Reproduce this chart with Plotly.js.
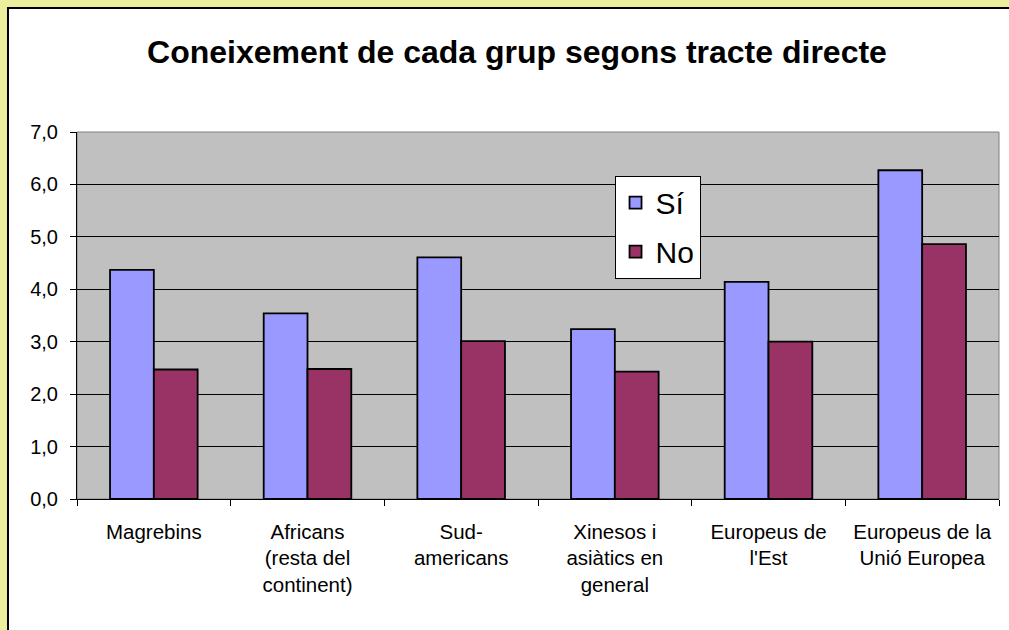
<!DOCTYPE html>
<html>
<head>
<meta charset="utf-8">
<script src="https://cdn.plot.ly/plotly-3.0.1.min.js"></script>
<style>
  html, body { margin: 0; padding: 0; width: 1009px; height: 630px; overflow: hidden; background: #EEEE9F; }
  #frame { position: absolute; left: 7px; top: 7px; width: 1002px; height: 623px; border-left: 2px solid #000; border-top: 2px solid #000; background: #fff; }
  #chart { position: absolute; left: 0; top: 0; width: 1000px; height: 621px; }
</style>
</head>
<body>
<div id="frame"><div id="chart"></div></div>
<script>
const categories = [
  "Magrebins",
  "Africans<br>(resta del<br>continent)",
  "Sud-<br>americans",
  "Xinesos i<br>asiàtics en<br>general",
  "Europeus de<br>l'Est",
  "Europeus de la<br>Unió Europea"
];
const seriesNames = ["Sí", "No"];
const valuesSi = [4.37, 3.54, 4.61, 3.24, 4.14, 6.27];
const valuesNo = [2.47, 2.48, 3.01, 2.43, 3.00, 4.86];
const yTicks = [0, 1, 2, 3, 4, 5, 6, 7];

const FONT = "Liberation Sans, Arial, sans-serif";

const traces = [
  {
    type: "bar", name: seriesNames[0], x: categories, y: valuesSi,
    legendgroup: "si",
    marker: { color: "#9999FF", line: { color: "#000", width: 1.8 } },
    hoverinfo: "none"
  },
  {
    type: "bar", name: seriesNames[1], x: categories, y: valuesNo,
    legendgroup: "no",
    marker: { color: "#993366", line: { color: "#000", width: 1.8 } },
    hoverinfo: "none"
  }
];

const layout = {
  width: 1000, height: 621,
  margin: { l: 68, r: 10, t: 123, b: 131 },
  paper_bgcolor: "#FFFFFF",
  plot_bgcolor: "#C0C0C0",
  separators: ", ",
  font: { family: FONT, color: "#000", size: 20 },
  title: {
    text: "<b>Coneixement de cada grup segons tracte directe</b>",
    font: { family: FONT, size: 32, color: "#000" },
    x: 0.508, xref: "container", xanchor: "center",
    y: 0.931, yref: "container", yanchor: "middle"
  },
  barmode: "group",
  bargap: 0.43,
  bargroupgap: 0,
  xaxis: {
    type: "category",
    showline: true, linecolor: "#000", linewidth: 1,
    ticks: "outside", tickson: "boundaries", ticklen: 6, tickcolor: "#000", tickwidth: 1,
    showgrid: false, zeroline: false,
    tickfont: { family: FONT, size: 20.5, color: "#000" },
    tickangle: 0,
    ticklabelstandoff: 14
  },
  yaxis: {
    range: [0, 7],
    tickvals: yTicks,
    tickformat: ".1f",
    showline: true, linecolor: "#000", linewidth: 1,
    ticks: "outside", ticklen: 6, tickcolor: "#000", tickwidth: 1,
    showgrid: true, gridcolor: "#000", gridwidth: 1,
    zeroline: false,
    tickfont: { family: FONT, size: 20, color: "#000" },
    ticklabelstandoff: 8
  },
  showlegend: true,
  legend: {
    x: 0.583, xanchor: "left", xref: "paper",
    y: 0.881, yanchor: "top", yref: "paper",
    bgcolor: "#FFFFFF", bordercolor: "#000", borderwidth: 1,
    font: { family: FONT, size: 30, color: "#000" },
    traceorder: "grouped",
    itemwidth: 30,
    tracegroupgap: 7
  },
  shapes: [
    {
      type: "rect", xref: "paper", yref: "paper", x0: 0, x1: 1, y0: 0, y1: 1,
      line: { color: "#808080", width: 1 }, fillcolor: "rgba(0,0,0,0)", layer: "below"
    }
  ]
};

Plotly.newPlot("chart", traces, layout, { staticPlot: true, displayModeBar: false });
</script>
</body>
</html>
